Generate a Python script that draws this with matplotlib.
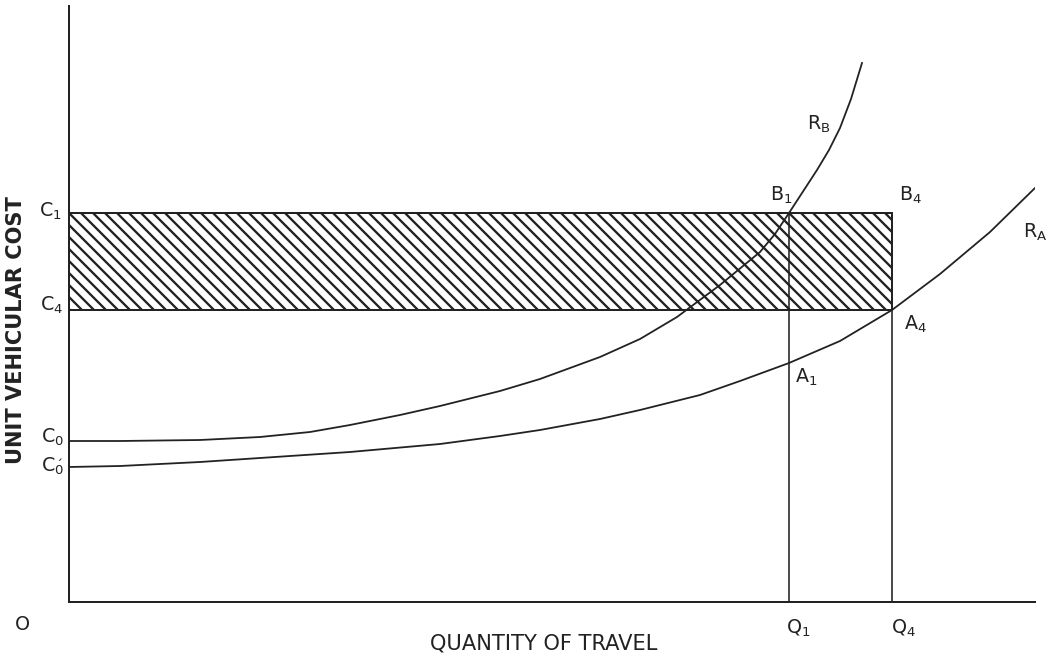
import matplotlib
matplotlib.use("Agg")
import matplotlib.pyplot as plt
from matplotlib.patches import Rectangle

# ── Données (unités arbitraires du schéma) ───────────────────────────────────
C1, C4, C0, C0P = 389, 292, 161, 135
Q1, Q4 = 720, 823

RB_X = [0, 51, 131, 191, 241, 281, 331, 371, 431, 471, 531, 571, 608, 651, 691,
        706, 720, 748, 760, 771, 782, 793]
RB_Y = [161, 161, 162, 165, 170, 177, 187, 196, 211, 223, 245, 263, 285, 317, 350,
        368, 389, 432, 452, 474, 503, 539]

RA_X = [0, 51, 131, 191, 281, 371, 431, 471, 531, 571, 631, 671, 720, 771, 823, 871, 921, 966]
RA_Y = [135, 136, 140, 144, 150, 158, 166, 172, 183, 192, 207, 221, 239, 261, 292, 328, 370, 414]

INK = "#222222"
DPI = 72
plt.rcParams["hatch.linewidth"] = 2.3
plt.rcParams["mathtext.default"] = "regular"
plt.rcParams["font.family"] = "DejaVu Sans"

fig = plt.figure(figsize=(1058 / DPI, 657 / DPI), dpi=DPI)
ax = fig.add_axes([69 / 1058, 55 / 657, 966 / 1058, 596 / 657])
ax.set_xlim(0, 966)
ax.set_ylim(0, 596)
for s in ["top", "right"]:
    ax.spines[s].set_visible(False)
for s in ["left", "bottom"]:
    ax.spines[s].set_linewidth(2)
    ax.spines[s].set_color(INK)
ax.set_xticks([])
ax.set_yticks([])

# zone hachurée
ax.add_patch(Rectangle((0, C4), Q4, C1 - C4, fill=False, hatch="\\\\",
                       edgecolor=INK, linewidth=2))

# verticales Q1, Q4
ax.vlines([Q1, Q4], 0, C1, color=INK, linewidth=1.6)

# courbes
ax.plot(RB_X, RB_Y, color=INK, linewidth=1.8, solid_joinstyle="round")
ax.plot(RA_X, RA_Y, color=INK, linewidth=1.8, solid_joinstyle="round")

fs = 19
kw = dict(fontsize=fs, color=INK, ha="center", va="center", clip_on=False)
ax.text(-19, C1 + 2, "C$_1$", **kw)
ax.text(-17, C4 + 5, "C$_4$", **kw)
ax.text(-17, C0 + 4, "C$_0$", **kw)
ax.text(-17, C0P + 1, r"C$_{\acute{0}}$", **kw)
ax.text(-47, -22, "O", **kw)
ax.text(Q1 + 9, -26, "Q$_1$", **kw)
ax.text(Q4 + 11, -26, "Q$_4$", **kw)
ax.text(Q1 - 8, C1 + 18, "B$_1$", **kw)
ax.text(Q4 + 18, C1 + 18, "B$_4$", **kw)
ax.text(Q4 + 23, C4 - 14, "A$_4$", **kw)
ax.text(Q1 + 17, 225, "A$_1$", **kw)
ax.text(750, 478, "R$_B$", **kw)
ax.text(966, 370, "R$_A$", **kw)

ax.text(475, -42, "QUANTITY OF TRAVEL", fontsize=21, color=INK, ha="center",
        va="center", clip_on=False)
ax.text(-53, 272, "UNIT VEHICULAR COST", rotation=90, fontweight="bold",
        fontsize=21, color=INK, ha="center", va="center", clip_on=False)

fig.savefig("out.png", dpi=DPI)
